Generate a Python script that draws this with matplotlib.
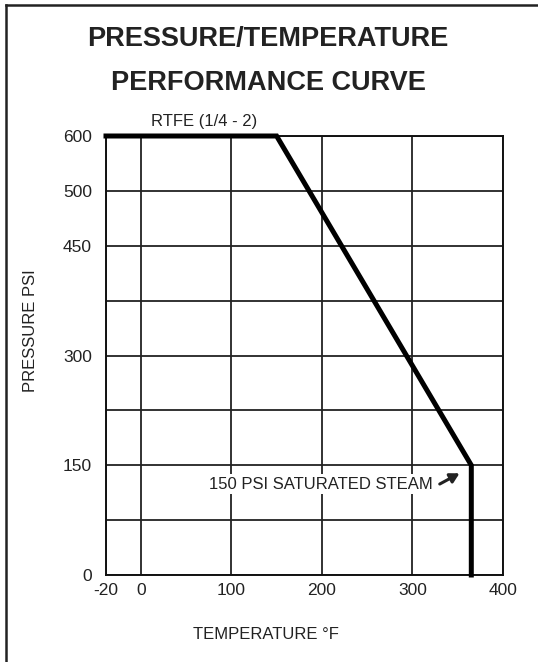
import matplotlib
matplotlib.use("Agg")
import matplotlib.pyplot as plt
import numpy as np
from matplotlib.lines import Line2D

plt.rcParams["font.family"] = ["Liberation Sans", "DejaVu Sans"]

# curve: RTFE (1/4 - 2)
temperature = [-20, 150, 365, 365]
pressure = [600, 600, 150, 0]

x_ticks = [-20, 0, 100, 200, 300, 400]
x_labels = ["-20", "0", "100", "200", "300", "400"]
y_ticks = [0, 150, 300, 450, 500, 600]
y_labels = ["0", "150", "300", "450", "500", "600"]
y_minor = [75, 225, 375]


# the chart's axes are stretched piecewise, so use small custom scales
def x_fwd(x):
    x = np.asarray(x, dtype=float)
    return np.where(x < 0, x * 1.92, x)


def x_inv(x):
    x = np.asarray(x, dtype=float)
    return np.where(x < 0, x / 1.92, x)


def y_fwd(y):
    y = np.asarray(y, dtype=float)
    return np.where(y <= 450, y,
                    np.where(y <= 500, 450 + (y - 450) * 1.5, 525 + (y - 500) * 0.75))


def y_inv(v):
    v = np.asarray(v, dtype=float)
    return np.where(v <= 450, v,
                    np.where(v <= 525, 450 + (v - 450) / 1.5, 500 + (v - 525) / 0.75))


fig = plt.figure(figsize=(5.38, 6.62), dpi=100)
ax = fig.add_axes([106 / 538, 87 / 662, 397 / 538, 439 / 662])

ax.set_xscale("function", functions=(x_fwd, x_inv))
ax.set_yscale("function", functions=(y_fwd, y_inv))
ax.set_xlim(-20, 400)
ax.set_ylim(0, 600)

ax.set_xticks(x_ticks)
ax.set_xticklabels(x_labels)
ax.set_yticks(y_ticks)
ax.set_yticklabels(y_labels)
ax.set_yticks(y_minor, minor=True)
ax.set_xticks([], minor=True)
ax.tick_params(axis="both", which="both", length=0, labelsize=12.5, colors="#222222")
ax.tick_params(axis="x", pad=6)
ax.tick_params(axis="y", pad=10)

ax.grid(True, which="both", color="#222222", linewidth=1.3)
ax.set_axisbelow(True)
for s in ax.spines.values():
    s.set_linewidth(1.4)
    s.set_color("#111111")

ax.plot(temperature, pressure, color="black", linewidth=3.6,
        solid_joinstyle="miter", clip_on=False, zorder=5)

ax.annotate("RTFE (1/4 - 2)", xy=(70, 600), xytext=(0, 5), textcoords="offset points",
            ha="center", va="bottom", fontsize=12, color="#222222", annotation_clip=False)

ax.annotate("150 PSI SATURATED STEAM", xy=(352, 139), xytext=(322, 124),
            ha="right", va="center", fontsize=12, color="#222222", zorder=6,
            bbox=dict(boxstyle="square,pad=0.15", facecolor="white", edgecolor="none"),
            arrowprops=dict(arrowstyle="-|>,head_length=0.45,head_width=0.25",
                            color="#222222", linewidth=2.2, shrinkA=4, shrinkB=0,
                            relpos=(1.0, 0.25)))

ax.set_ylabel("PRESSURE PSI", fontsize=12, color="#222222")
ax.yaxis.set_label_coords(-0.171, 0.556)
ax.set_xlabel("TEMPERATURE °F", fontsize=12, color="#222222")
ax.xaxis.set_label_coords(0.403, -0.118)

fig.text(268 / 538, 1 - 39 / 662, "PRESSURE/TEMPERATURE", ha="center", va="center",
         fontsize=19.5, fontweight="bold", color="#222222")
fig.text(268 / 538, 1 - 83 / 662, "PERFORMANCE CURVE", ha="center", va="center",
         fontsize=19.5, fontweight="bold", color="#222222")

# open frame: top and left edges only
fig.add_artist(Line2D([6 / 538, 1], [1 - 5 / 662, 1 - 5 / 662], transform=fig.transFigure,
                      color="#222222", linewidth=1.8))
fig.add_artist(Line2D([6 / 538, 6 / 538], [0, 1 - 5 / 662], transform=fig.transFigure,
                      color="#222222", linewidth=1.8))

fig.savefig("out.png", dpi=100)
plt.close(fig)
